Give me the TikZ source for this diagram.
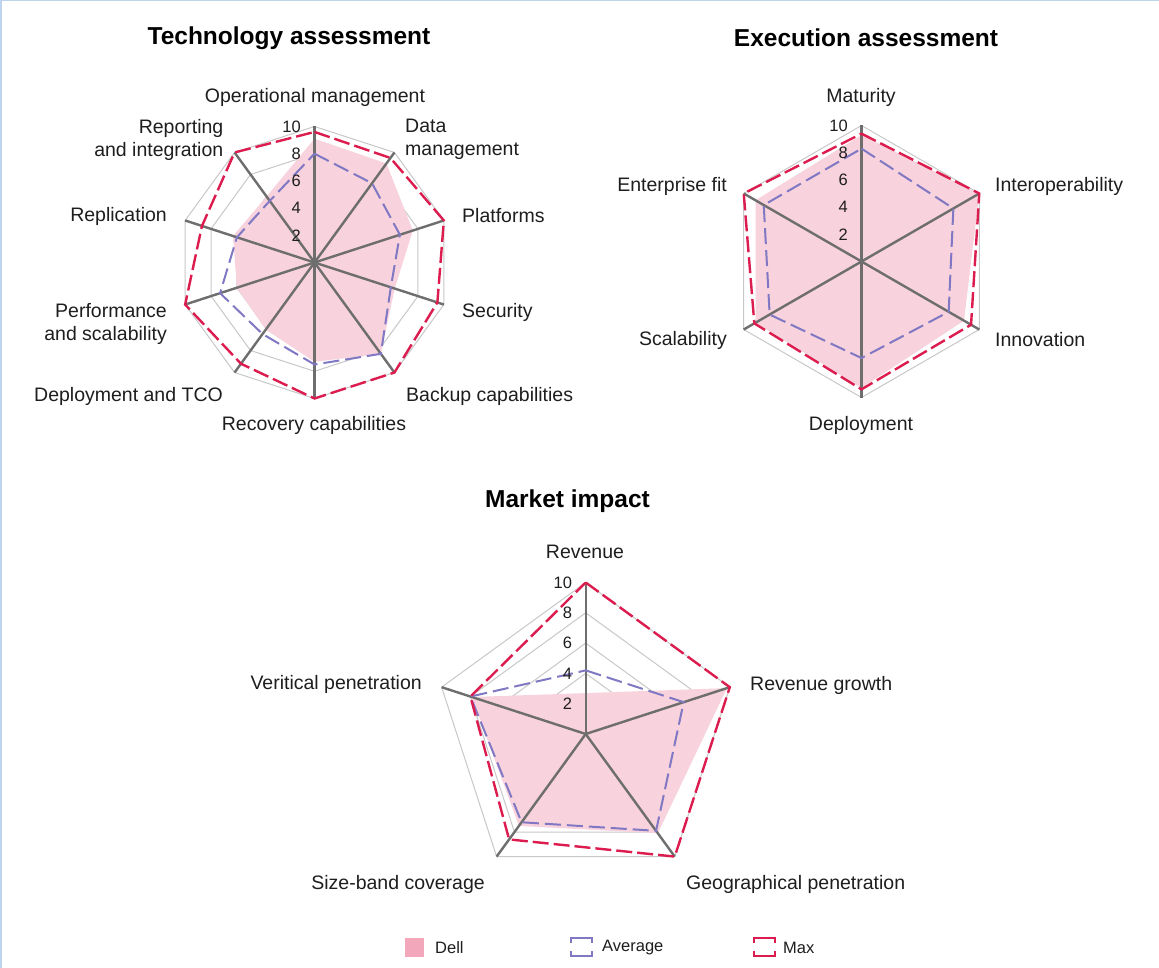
\documentclass[tikz,border=0pt]{standalone}
\usepackage{fontspec}
\setmainfont{Liberation Sans}
\definecolor{dellfill}{RGB}{248,210,221}
\definecolor{dellleg}{RGB}{243,167,186}
\definecolor{avgc}{RGB}{128,120,195}
\definecolor{maxc}{RGB}{220,28,78}
\definecolor{spoke}{RGB}{110,110,110}
\definecolor{ring}{RGB}{200,200,200}
\definecolor{framec}{RGB}{190,212,238}
\definecolor{txt}{RGB}{30,30,30}
\tikzset{
  ringline/.style={draw=ring, line width=1pt},
  spokeline/.style={draw=spoke, line width=2.4pt},
  dellarea/.style={fill=dellfill, draw=none},
  avgline/.style={draw=avgc, line width=2pt, dash pattern=on 16pt off 6pt},
  maxline/.style={draw=maxc, line width=2.4pt, dash pattern=on 16pt off 5pt},
  lbl/.style={font=\fontsize{19.5}{23}\selectfont, inner sep=0pt, text=txt},
  ttl/.style={font=\fontsize{24.5}{29}\selectfont\bfseries, inner sep=0pt, text=black},
  tick/.style={font=\fontsize{16.5}{19}\selectfont, inner sep=0pt, anchor=east, text=txt},
  legtxt/.style={font=\fontsize{16.5}{19}\selectfont, inner sep=0pt, anchor=west, text=txt},
}
% #1 prefix #2 cx #3 cy #4 unit #5 n #6 dell #7 avg #8 max
\newcommand{\radarchart}[8]{%
  \pgfmathtruncatemacro{\last}{#5-1}%
  \coordinate (#1-c) at (#2,#3);
  \foreach \k in {0,...,\last} {
    \coordinate (#1-e\k) at ({#2+10*#4*sin(360*\k/#5)},{#3-10*#4*cos(360*\k/#5)});
  }
  \foreach \lev in {2,4,6,8,10} {
    \draw[ringline] plot[samples at={0,...,\last}] ({#2+\lev*#4*sin(360*\x/#5)},{#3-\lev*#4*cos(360*\x/#5)}) -- cycle;
  }
  \foreach \v [count=\k from 0] in {#6} {
    \coordinate (#1-d\k) at ({#2+\v*#4*sin(360*\k/#5)},{#3-\v*#4*cos(360*\k/#5)});
  }
  \foreach \v [count=\k from 0] in {#7} {
    \coordinate (#1-a\k) at ({#2+\v*#4*sin(360*\k/#5)},{#3-\v*#4*cos(360*\k/#5)});
  }
  \foreach \v [count=\k from 0] in {#8} {
    \coordinate (#1-m\k) at ({#2+\v*#4*sin(360*\k/#5)},{#3-\v*#4*cos(360*\k/#5)});
  }
  \fill[dellarea] (#1-d0) \foreach \k in {1,...,\last} { -- (#1-d\k) } -- cycle;
  \foreach \k in {0,...,\last} { \draw[spokeline] (#1-c) -- (#1-e\k); }
  \draw[avgline] (#1-a0) \foreach \k in {1,...,\last} { -- (#1-a\k) } -- cycle;
  \draw[maxline] (#1-m0) \foreach \k in {1,...,\last} { -- (#1-m\k) } -- cycle;
  \foreach \lev in {2,4,6,8,10} {
    \node[tick] (#1-t\lev) at ({#2-13.5},{#3-\lev*#4}) {\lev};
  }
}
\begin{document}
\begin{tikzpicture}[x=1pt,y=-1pt]
\useasboundingbox (0,0) rectangle (1159,968);
\fill[white] (0,0) rectangle (1159,968);
\draw[framec, line width=1.5pt] (0.75,968) -- (0.75,0.75) -- (1159,0.75);

% Technology assessment
\node[ttl] (t-title) at (289,38) {Technology assessment};
\radarchart{T}{314.5}{262.5}{13.6}{10}%
  {9.1,9.0,7.6,6.2,8.3,7.3,6.1,6.0,6.3,6.0}%
  {8.0,7.2,6.6,5.9,8.3,7.5,6.5,7.3,6.0,5.6}%
  {9.6,9.5,10,9.5,10,10,9.2,10,8.7,10}
\node[lbl] (t-om) at (315,97) {Operational management};
\node[lbl, anchor=west, align=left] (t-dm) at (405,139.5) {Data\\management};
\node[lbl, anchor=west] (t-pl) at (462,216) {Platforms};
\node[lbl, anchor=west] (t-se) at (462,312) {Security};
\node[lbl, anchor=west] (t-ba) at (406,396) {Backup capabilities};
\node[lbl] (t-re) at (314,425) {Recovery capabilities};
\node[lbl, anchor=east] (t-de) at (223,396) {Deployment and TCO};
\node[lbl, anchor=east, align=right] (t-pe) at (167,323.5) {Performance\\and scalability};
\node[lbl, anchor=east] (t-rp) at (167,216) {Replication};
\node[lbl, anchor=east, align=right] (t-ri) at (223.5,139.5) {Reporting\\and integration};

% Execution assessment
\node[ttl] (e-title) at (866,38) {Execution assessment};
\radarchart{E}{861.5}{261.5}{13.6}{6}%
  {9.3,10,8.7,9.3,9.0,9.0}%
  {8.3,7.8,7.4,7.1,7.8,8.3}%
  {9.4,10,9.3,9.4,9.1,10}
\node[lbl] (e-ma) at (861,97) {Maturity};
\node[lbl, anchor=west] (e-io) at (995,186) {Interoperability};
\node[lbl, anchor=west] (e-in) at (995,340) {Innovation};
\node[lbl] (e-de) at (861,425) {Deployment};
\node[lbl, anchor=east] (e-sc) at (727,340) {Scalability};
\node[lbl, anchor=east] (e-ef) at (727,186) {Enterprise fit};

% Market impact
\node[ttl] (m-title) at (567.5,501) {Market impact};
\radarchart{M}{585.7}{734}{15.15}{5}%
  {2.7,9.8,8.1,7.5,7.9}%
  {4.2,6.8,7.9,7.2,8.0}%
  {10,10,10,8.6,8.0}
\node[lbl] (m-rv) at (585,552) {Revenue};
\node[lbl, anchor=west] (m-rg) at (750,685) {Revenue growth};
\node[lbl, anchor=west] (m-gp) at (686,884) {Geographical penetration};
\node[lbl, anchor=east] (m-sb) at (485,884) {Size-band coverage};
\node[lbl, anchor=east] (m-vp) at (422,684) {Veritical penetration};

% Legend
\node[fill=dellleg, minimum size=19pt, inner sep=0pt, anchor=north west] (leg-dell) at (405,937.5) {};
\node[legtxt] (leg-dell-t) at (435,947.5) {Dell};
\draw[avgc, line width=2pt] (571,943) -- (571,937.5) -- (592,937.5) -- (592,943);
\draw[avgc, line width=2pt] (571,950.5) -- (571,956) -- (592,956) -- (592,950.5);
\node[legtxt] (leg-avg-t) at (602,947.5) {Average};
\draw[maxc, line width=2pt] (753.5,943) -- (753.5,937.5) -- (775,937.5) -- (775,943);
\draw[maxc, line width=2pt] (753.5,950.5) -- (753.5,956) -- (775,956) -- (775,950.5);
\node[legtxt] (leg-max-t) at (783,947.5) {Max};
\end{tikzpicture}
\end{document}
